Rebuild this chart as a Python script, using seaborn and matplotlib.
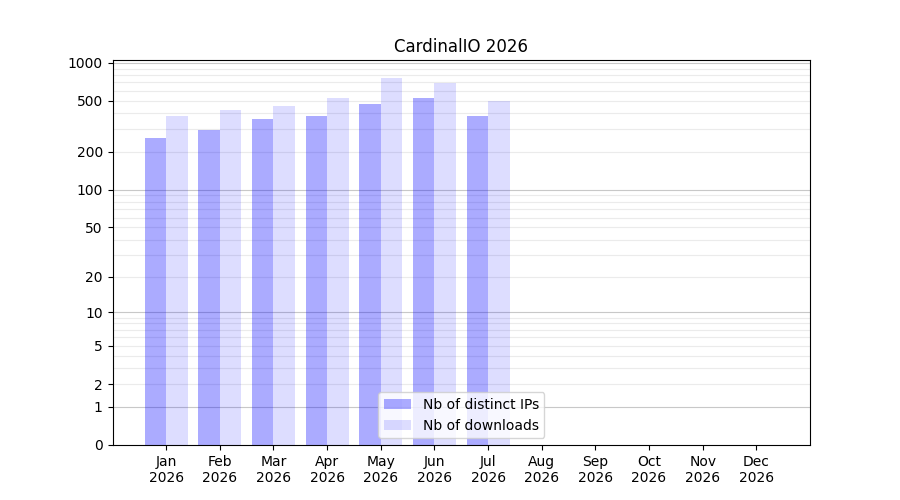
import numpy as np
import pandas as pd
import matplotlib
matplotlib.use("Agg")
import matplotlib.pyplot as plt
import seaborn as sns

months = ["Jan", "Feb", "Mar", "Apr", "May", "Jun", "Jul", "Aug", "Sep", "Oct", "Nov", "Dec"]
year = "2026"
distinct_ips = [258, 298, 364, 384, 477, 532, 384]
downloads = [384, 421, 460, 532, 763, 698, 504]
ytick_values = [0, 1, 2, 5, 10, 20, 50, 100, 200, 500, 1000]

rows = []
for m, v in zip(months, distinct_ips):
    rows.append({"month": m, "kind": "Nb of distinct IPs", "count": v})
for m, v in zip(months, downloads):
    rows.append({"month": m, "kind": "Nb of downloads", "count": v})
df = pd.DataFrame(rows)

fig, ax = plt.subplots(figsize=(9, 5), dpi=100)
ax.set_yscale("function", functions=(lambda x: np.log10(np.clip(x, 0, None) + 1),
                                     lambda y: 10 ** y - 1))

sns.barplot(data=df, x="month", y="count", hue="kind", order=months,
            palette=["blue", "blue"], saturation=1, width=0.8, ax=ax, errorbar=None)

alphas = [0.33, 0.135]
for cont, a in zip(ax.containers, alphas):
    for bar in cont:
        bar.set_alpha(a)
        bar.set_edgecolor("none")

# grid lines: light minor, darker decades
for d in [1, 10, 100]:
    for k in range(2, 10):
        ax.axhline(d * k, color="#ebebeb", lw=0.8, zorder=0)
for d in [1, 10, 100, 1000]:
    ax.axhline(d, color="#c8c8c8", lw=0.8, zorder=0)
ax.set_axisbelow(True)

ax.set_ylim(0, 1050)
ax.set_yticks(ytick_values)
ax.set_yticklabels([str(v) for v in ytick_values])
ax.set_xlim(-1, 12)
ax.set_xticks(range(len(months)))
ax.set_xticklabels([f"{m}\n{year}" for m in months])
ax.set_xlabel("")
ax.set_ylabel("")
ax.set_title("CardinalIO 2026")

handles, labels = ax.get_legend_handles_labels()
for h, a in zip(handles, alphas):
    h.set_alpha(a)
ax.legend(handles, labels, loc="lower center")

plt.savefig("out.png")
